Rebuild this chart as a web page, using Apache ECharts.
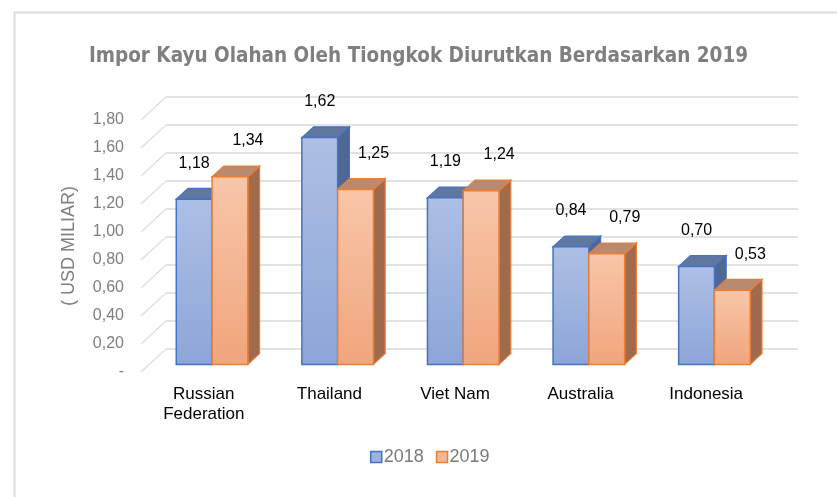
<!DOCTYPE html>
<html>
<head>
<meta charset="utf-8">
<script src="https://cdn.jsdelivr.net/npm/echarts@6/dist/echarts.min.js"></script>
<style>
  html, body { margin: 0; padding: 0; background: #fff; }
  #chart { width: 837px; height: 497px; }
</style>
</head>
<body>
<div id="chart"></div>
<script>
const categories = ['Russian\nFederation', 'Thailand', 'Viet Nam', 'Australia', 'Indonesia']
const values2018 = [1.18, 1.62, 1.19, 0.84, 0.70]
const values2019 = [1.34, 1.25, 1.24, 0.79, 0.53]
const yTicks = [0, 0.2, 0.4, 0.6, 0.8, 1.0, 1.2, 1.4, 1.6, 1.8]

// fake 3D: offset from front plane to back wall, in px
const DEPTH = [25, -23]
const BAR_FRONT = 0.33
const BAR_BACK = 0.8
const FONT = 'Liberation Sans, Arial, sans-serif'

const fmt = (v) => v.toFixed(2).replace('.', ',')

const blue = {
  border: '#4472c4',
  top: '#60779f',
  side: '#4f6794',
  faceTop: '#adbfe5',
  faceBottom: '#8da5d7',
}
const orange = {
  border: '#ed7d31',
  top: '#b98a70',
  side: '#a06a4d',
  faceTop: '#f8c6a9',
  faceBottom: '#f0a57d',
}

function barRenderer(leftSide, c, labelDx) {
  return function (params, api) {
    const i = api.value(0)
    const v = api.value(1)
    const base = api.coord([i, 0])
    const top = api.coord([i, v])
    const w = api.size([1, 0])[0] * 0.285
    const fx = DEPTH[0] * BAR_FRONT
    const fy = DEPTH[1] * BAR_FRONT
    const dx = DEPTH[0] * (BAR_BACK - BAR_FRONT)
    const dy = DEPTH[1] * (BAR_BACK - BAR_FRONT)
    const x0 = base[0] + (leftSide ? -w : 0) + fx
    const x1 = x0 + w
    const y0 = base[1] + fy
    const y1 = top[1] + fy
    return {
      type: 'group',
      children: [
        {
          type: 'polygon',
          shape: { points: [[x1, y0], [x1 + dx, y0 + dy], [x1 + dx, y1 + dy], [x1, y1]] },
          style: { fill: c.side, stroke: c.border, lineWidth: 1.2 },
        },
        {
          type: 'polygon',
          shape: { points: [[x0, y1], [x0 + dx, y1 + dy], [x1 + dx, y1 + dy], [x1, y1]] },
          style: { fill: c.top, stroke: c.border, lineWidth: 1.2 },
        },
        {
          type: 'rect',
          shape: { x: x0, y: y1, width: w, height: y0 - y1 },
          style: {
            fill: new echarts.graphic.LinearGradient(0, 0, 0, 1, [
              { offset: 0, color: c.faceTop },
              { offset: 1, color: c.faceBottom },
            ]),
            stroke: c.border,
            lineWidth: 1.5,
          },
        },
        {
          type: 'text',
          style: {
            text: fmt(v),
            x: x0 + w / 2 + labelDx,
            y: y1 - 36,
            align: 'center',
            verticalAlign: 'middle',
            fill: '#000',
            font: '16px ' + FONT,
          },
        },
      ],
    }
  }
}

function wallRenderer(params, api) {
  const v = api.value(1)
  const y = api.coord([0, v])[1]
  const cs = params.coordSys
  const xL = cs.x
  const xR = cs.x + cs.width
  return {
    type: 'group',
    children: [
      {
        type: 'line',
        shape: { x1: xL, y1: y, x2: xL + DEPTH[0], y2: y + DEPTH[1] },
        style: { stroke: '#e0e0e0', lineWidth: 1.5 },
      },
      {
        type: 'line',
        shape: { x1: xL + DEPTH[0], y1: y + DEPTH[1], x2: xR + DEPTH[0] + 4, y2: y + DEPTH[1] },
        style: { stroke: '#d9d9d9', lineWidth: 1.5 },
      },
    ],
  }
}

const chart = echarts.init(document.getElementById('chart'), null, { renderer: 'canvas' })

chart.setOption({
  backgroundColor: '#fff',
  animation: false,
  title: {
    text: 'Impor Kayu Olahan Oleh Tiongkok Diurutkan Berdasarkan 2019',
    left: 'center',
    top: 41,
    padding: [5, 0, 5, 17],
    textStyle: {
      color: '#7f7f7f',
      fontSize: 20.5,
      fontWeight: 'bold',
      fontFamily: 'DejaVu Sans Condensed, Liberation Sans, sans-serif',
    },
  },
  graphic: [
    {
      type: 'rect',
      left: 12,
      top: 10,
      shape: { width: 840, height: 500 },
      style: { fill: 'none', stroke: '#dcdcdc', lineWidth: 2 },
      silent: true,
    },
  ],
  legend: {
    top: 443,
    left: 365,
    itemWidth: 11,
    itemHeight: 11,
    itemGap: 12,
    textStyle: { color: '#7a7a7a', fontSize: 18, fontFamily: FONT, padding: [0, 0, 0, -3] },
    data: [
      { name: '2018', icon: 'rect', itemStyle: { color: '#9db2df', borderColor: blue.border, borderWidth: 1.5 } },
      { name: '2019', icon: 'rect', itemStyle: { color: '#f5b793', borderColor: orange.border, borderWidth: 1.5 } },
    ],
  },
  grid: { left: 141, right: 68, top: 120, bottom: 125 },
  xAxis: {
    type: 'category',
    data: categories,
    axisLine: { show: false },
    axisTick: { show: false },
    axisLabel: { color: '#000', fontSize: 17, fontFamily: FONT, lineHeight: 20, margin: 12 },
  },
  yAxis: {
    type: 'value',
    min: 0,
    max: 1.8,
    interval: 0.2,
    name: '( USD MILIAR)',
    nameLocation: 'middle',
    nameGap: 63,
    nameRotate: 90,
    nameTextStyle: { color: '#7f7f7f', fontSize: 18, fontFamily: FONT },
    axisLine: { show: false },
    axisTick: { show: false },
    splitLine: { show: false },
    axisLabel: {
      color: '#7f7f7f',
      fontSize: 16,
      fontFamily: FONT,
      margin: 17,
      formatter: (v) => (v === 0 ? '-' : fmt(v)),
    },
  },
  series: [
    {
      name: 'walls',
      type: 'custom',
      z: 1,
      clip: false,
      silent: true,
      renderItem: wallRenderer,
      data: yTicks.map((v) => [0, v]),
    },
    {
      name: '2018',
      type: 'custom',
      z: 2,
      clip: false,
      renderItem: barRenderer(true, blue, 0),
      encode: { x: 0, y: 1 },
      data: values2018.map((v, i) => [i, v]),
    },
    {
      name: '2019',
      type: 'custom',
      z: 3,
      clip: false,
      renderItem: barRenderer(false, orange, 18),
      encode: { x: 0, y: 1 },
      data: values2019.map((v, i) => [i, v]),
    },
  ],
})
</script>
</body>
</html>
